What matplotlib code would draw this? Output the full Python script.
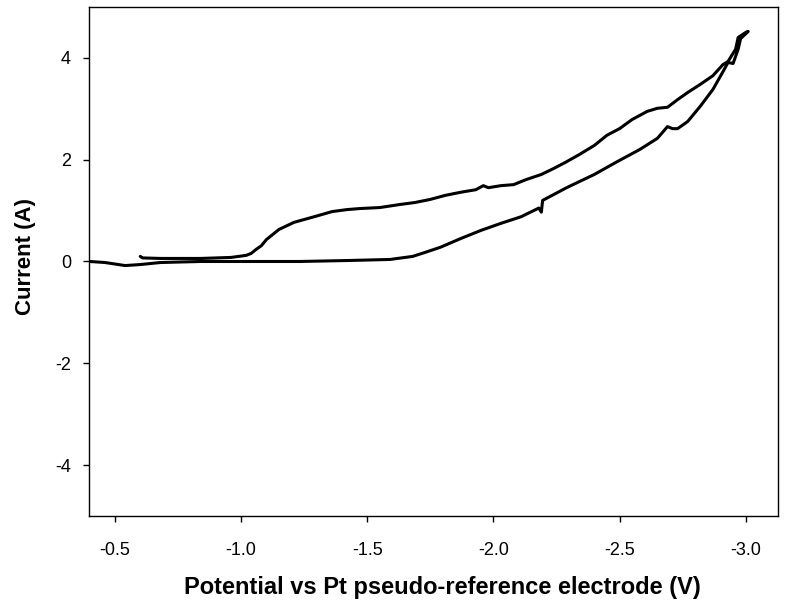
import numpy as np
import matplotlib.pyplot as plt

plt.rcParams['font.family'] = ['Liberation Sans', 'DejaVu Sans']
plt.rcParams['axes.unicode_minus'] = False

fwd_v = [-0.40, -0.46, -0.54, -0.60, -0.68, -0.84, -1.04, -1.23, -1.43, -1.59,
         -1.68, -1.73, -1.79, -1.87, -1.95, -2.03, -2.11, -2.18, -2.19, -2.195,
         -2.29, -2.40, -2.49, -2.58, -2.65, -2.69, -2.71, -2.73, -2.77, -2.82,
         -2.87, -2.91, -2.93, -2.95, -2.97, -2.98, -3.01]
fwd_i = [0.00, -0.02, -0.08, -0.06, -0.02, 0.00, 0.00, 0.00, 0.02, 0.04,
         0.10, 0.18, 0.28, 0.45, 0.61, 0.75, 0.88, 1.05, 0.97, 1.20,
         1.45, 1.71, 1.96, 2.20, 2.42, 2.65, 2.61, 2.61, 2.75, 3.05,
         3.38, 3.73, 3.91, 3.89, 4.17, 4.38, 4.52]

# reverse scan (upper branch)
rev_v = [-3.00, -2.97, -2.96, -2.93, -2.91, -2.87, -2.82, -2.77, -2.73, -2.69,
         -2.65, -2.61, -2.55, -2.50, -2.45, -2.40, -2.34, -2.29, -2.24, -2.19,
         -2.13, -2.08, -2.03, -1.98, -1.96, -1.93, -1.87, -1.81, -1.75, -1.69,
         -1.63, -1.55, -1.47, -1.42, -1.36, -1.29, -1.21, -1.15, -1.10, -1.08,
         -1.06, -1.04, -1.02, -0.96, -0.84, -0.68, -0.61, -0.60]
rev_i = [4.50, 4.40, 4.17, 3.93, 3.87, 3.65, 3.48, 3.32, 3.18, 3.03,
         3.01, 2.95, 2.79, 2.61, 2.48, 2.28, 2.10, 1.96, 1.83, 1.71,
         1.61, 1.51, 1.49, 1.45, 1.49, 1.41, 1.36, 1.30, 1.22, 1.16,
         1.12, 1.06, 1.04, 1.02, 0.98, 0.88, 0.77, 0.63, 0.43, 0.31,
         0.24, 0.16, 0.12, 0.08, 0.06, 0.06, 0.07, 0.10]

x_ticks = [-0.5, -1.0, -1.5, -2.0, -2.5, -3.0]
y_ticks = [-4, -2, 0, 2, 4]

v = fwd_v + rev_v
cur = fwd_i + rev_i

fig = plt.figure(figsize=(7.9, 6.03), dpi=100)
ax = fig.add_axes([0.1127, 0.1443, 0.8721, 0.8441])
ax.plot(v, cur, color='black', lw=2.2, solid_joinstyle='round', solid_capstyle='round')

ax.set_xlim(-0.397, -3.128)
ax.set_ylim(-5, 5)
ax.set_xticks(x_ticks)
ax.set_xticklabels(['%.1f' % t for t in x_ticks])
ax.set_yticks(y_ticks)
ax.tick_params(direction='out', length=4, width=1, labelsize=13)
ax.tick_params(axis='x', pad=15)
ax.tick_params(axis='y', pad=9)
for s in ax.spines.values():
    s.set_linewidth(1)

ax.set_xlabel('Potential vs Pt pseudo-reference electrode (V)', fontsize=17, fontweight='bold', labelpad=12)
ax.set_ylabel('Current (A)', fontsize=16, fontweight='bold', labelpad=14)
# labels sit a bit off-centre in the original
ax.xaxis.label.set_x(0.513)
ax.yaxis.label.set_y(0.51)

fig.savefig('out.png', dpi=100)
